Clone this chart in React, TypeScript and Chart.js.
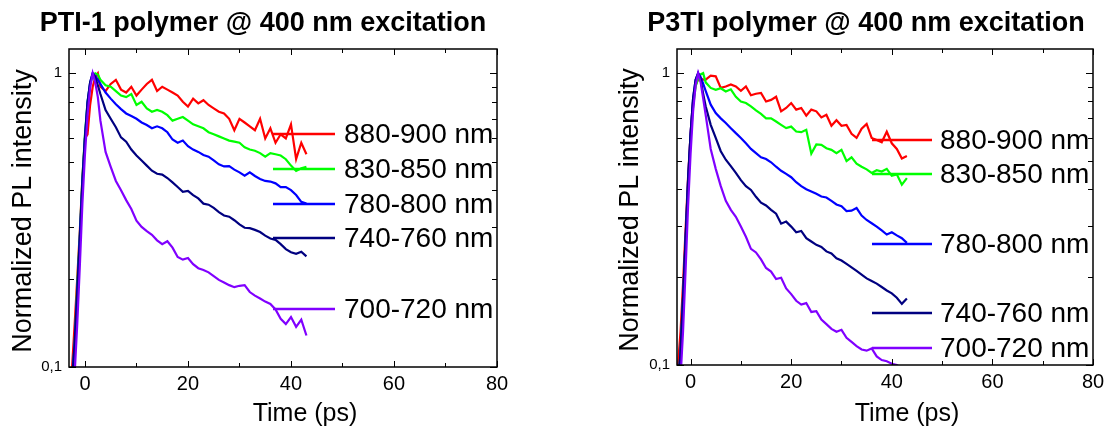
import React, { useEffect, useRef } from 'react';
import { Chart, registerables } from 'chart.js';

Chart.register(...registerables);

// ---------- data ----------
const times = [-3, -2.5, -2, -1.5, -1, -0.5, 0, 0.5, 1, 1.5, 2, 2.5,
  3, 4, 5, 6, 7, 8, 9, 10, 11, 12, 13, 14, 15, 16, 17, 18, 19, 20, 21, 22,
  23, 24, 25, 26, 27, 28, 29, 30, 31, 32, 33, 34, 35, 36, 37, 38, 39, 40, 41, 42, 43];

const seriesLabels = ['880-900 nm', '830-850 nm', '780-800 nm', '740-760 nm', '700-720 nm'];
const seriesColors = ['#ff0000', '#00ff00', '#0000ff', '#000080', '#8000ff'];

// PTI-1 polymer
const pti880 = [0.08, 0.10, 0.14, 0.20, 0.29, 0.44, 0.60, 0.62, 0.78, 0.90, 0.97, 1.00,
  0.90, 0.87, 0.92, 0.95, 0.88, 0.86, 0.90, 0.84, 0.88, 0.92,
  0.95, 0.87, 0.90, 0.88, 0.86, 0.84, 0.80, 0.77, 0.82, 0.79,
  0.81, 0.78, 0.76, 0.74, 0.73, 0.70, 0.64, 0.70, 0.68, 0.66,
  0.64, 0.70, 0.60, 0.65, 0.58, 0.62, 0.60, 0.67, 0.51, 0.58,
  0.53];
const pti830 = [0.07, 0.09, 0.12, 0.19, 0.28, 0.44, 0.62, 0.80, 0.92, 0.98, 1.00, 0.99,
  0.95, 0.91, 0.90, 0.87, 0.84, 0.83, 0.85, 0.78, 0.80, 0.76,
  0.74, 0.75, 0.74, 0.72, 0.69, 0.70, 0.71, 0.69, 0.67, 0.66,
  0.65, 0.63, 0.62, 0.61, 0.60, 0.59, 0.585, 0.58, 0.56, 0.55,
  0.545, 0.535, 0.52, 0.535, 0.53, 0.525, 0.51, 0.485, 0.465, 0.475,
  0.48];
const pti780 = [0.07, 0.09, 0.12, 0.18, 0.28, 0.43, 0.61, 0.80, 0.93, 1.00, 0.98, 0.95,
  0.92, 0.86, 0.82, 0.785, 0.755, 0.73, 0.715, 0.70, 0.68, 0.667,
  0.65, 0.66, 0.65, 0.63, 0.595, 0.58, 0.59, 0.565, 0.55, 0.54,
  0.527, 0.52, 0.505, 0.49, 0.482, 0.483, 0.47, 0.46, 0.448, 0.46,
  0.447, 0.437, 0.43, 0.428, 0.422, 0.41, 0.41, 0.40, 0.385, 0.365,
  0.36];
const pti740 = [0.07, 0.09, 0.12, 0.18, 0.27, 0.42, 0.60, 0.79, 0.93, 1.00, 0.97, 0.91,
  0.85, 0.75, 0.70, 0.655, 0.605, 0.585, 0.55, 0.525, 0.505, 0.485,
  0.466, 0.455, 0.452, 0.44, 0.425, 0.41, 0.395, 0.398, 0.385, 0.375,
  0.36, 0.357, 0.348, 0.337, 0.328, 0.325, 0.316, 0.306, 0.298, 0.297,
  0.293, 0.288, 0.28, 0.274, 0.271, 0.262, 0.252, 0.246, 0.243, 0.247,
  0.238];
const pti700 = [0.06, 0.075, 0.095, 0.14, 0.22, 0.36, 0.53, 0.72, 0.89, 1.00, 0.93, 0.83,
  0.69, 0.54, 0.48, 0.43, 0.40, 0.37, 0.345, 0.315, 0.30, 0.29,
  0.282, 0.27, 0.262, 0.268, 0.255, 0.237, 0.232, 0.235, 0.224, 0.217,
  0.214, 0.21, 0.204, 0.198, 0.194, 0.19, 0.187, 0.189, 0.19, 0.18,
  0.175, 0.171, 0.167, 0.164, 0.157, 0.146, 0.14, 0.148, 0.137, 0.145,
  0.128];

// P3TI polymer
const p3ti880 = [0.085, 0.10, 0.13, 0.19, 0.29, 0.44, 0.62, 0.80, 0.91, 0.95, 0.96, 0.95,
  0.95, 0.98, 0.975, 0.89, 0.90, 0.915, 0.90, 0.87, 0.90, 0.84,
  0.85, 0.855, 0.80, 0.81, 0.83, 0.74, 0.76, 0.79, 0.75, 0.76,
  0.715, 0.75, 0.74, 0.705, 0.72, 0.66, 0.69, 0.66, 0.665, 0.62,
  0.60, 0.645, 0.67, 0.60, 0.59, 0.58, 0.63, 0.575, 0.55, 0.51,
  0.52];
const p3ti830 = [0.07, 0.085, 0.11, 0.17, 0.26, 0.41, 0.59, 0.77, 0.90, 0.96, 0.99, 1.00,
  0.93, 0.89, 0.877, 0.888, 0.865, 0.88, 0.83, 0.80, 0.79, 0.77,
  0.745, 0.725, 0.70, 0.70, 0.683, 0.665, 0.648, 0.656, 0.631, 0.628,
  0.64, 0.53, 0.57, 0.568, 0.553, 0.546, 0.532, 0.546, 0.50, 0.515,
  0.49, 0.478, 0.468, 0.455, 0.465, 0.46, 0.47, 0.445, 0.45, 0.415,
  0.437];
const p3ti780 = [0.07, 0.085, 0.11, 0.17, 0.27, 0.43, 0.62, 0.82, 0.95, 1.00, 0.97, 0.92,
  0.87, 0.78, 0.73, 0.70, 0.675, 0.648, 0.623, 0.60, 0.575, 0.55,
  0.532, 0.515, 0.508, 0.495, 0.478, 0.463, 0.452, 0.44, 0.423, 0.41,
  0.40, 0.393, 0.386, 0.378, 0.375, 0.365, 0.355, 0.35, 0.337, 0.338,
  0.345, 0.325, 0.314, 0.306, 0.298, 0.289, 0.28, 0.285, 0.278, 0.272,
  0.262];
const p3ti740 = [0.07, 0.085, 0.11, 0.17, 0.27, 0.43, 0.62, 0.82, 0.95, 1.00, 0.95, 0.85,
  0.77, 0.665, 0.60, 0.54, 0.505, 0.48, 0.455, 0.43, 0.41, 0.398,
  0.377, 0.36, 0.352, 0.34, 0.33, 0.305, 0.31, 0.298, 0.285, 0.288,
  0.272, 0.265, 0.258, 0.254, 0.245, 0.241, 0.232, 0.228, 0.222, 0.216,
  0.21, 0.204, 0.198, 0.194, 0.19, 0.185, 0.18, 0.176, 0.17, 0.162,
  0.169];
const p3ti700 = [0.06, 0.07, 0.09, 0.13, 0.21, 0.35, 0.53, 0.74, 0.91, 1.00, 0.93, 0.82,
  0.72, 0.55, 0.47, 0.41, 0.365, 0.34, 0.322, 0.298, 0.275, 0.25,
  0.243, 0.23, 0.215, 0.209, 0.197, 0.199, 0.183, 0.175, 0.166, 0.161,
  0.163, 0.152, 0.153, 0.143, 0.138, 0.133, 0.13, 0.132, 0.124, 0.12,
  0.116, 0.113, 0.112, 0.114, 0.107, 0.104, 0.103, 0.101, 0.10, 0.097,
  0.096];

const xTickValues = [0, 20, 40, 60, 80];
const xMinorTicks = [10, 30, 50, 70];
const yTickValues = [0.1, 1];
const yTickLabels = ['0,1', '1'];
const yMinorTicks = [0.2, 0.3, 0.4, 0.5, 0.6, 0.7, 0.8, 0.9];

const xTitle = 'Time (ps)';
const yTitle = 'Normalized PL intensity';

// ---------- layout ----------
const FONT = '"Liberation Sans", Arial, Helvetica, sans-serif';
const CW = 555;
const CH = 428;

const panels = [
  {
    title: 'PTI-1 polymer @ 400 nm excitation',
    series: [pti880, pti830, pti780, pti740, pti700],
    canvasLeft: 0,
    xMin: -3.1,
    yMax: 1.21,
    area: { left: 69, top: 49, right: 497, bottom: 367 },
    titleX: 263,
    xTitleX: 305,
    yTitleX: 24,
    legendLine: [273, 335],
    legendTextX: 344,
    legendRows: [134, 169, 204, 238, 309],
  },
  {
    title: 'P3TI polymer @ 400 nm excitation',
    series: [p3ti880, p3ti830, p3ti780, p3ti740, p3ti700],
    canvasLeft: 555,
    xMin: -2.7,
    yMax: 1.21,
    area: { left: 122, top: 49, right: 538, bottom: 365 },
    titleX: 311,
    xTitleX: 352,
    yTitleX: 76,
    legendLine: [317, 377],
    legendTextX: 385,
    legendRows: [140, 174, 244, 313, 348],
  },
];

type PanelCfg = typeof panels[number];

function makeDecorPlugin(cfg: PanelCfg) {
  return {
    id: 'decor',
    afterDraw(chart: any) {
      const ctx = chart.ctx as CanvasRenderingContext2D;
      const { left, top, right, bottom } = chart.chartArea;
      const xs = chart.scales.x;
      const ys = chart.scales.y;
      ctx.save();
      ctx.strokeStyle = '#000';
      ctx.lineWidth = 1;
      // ticks (inward, all four sides)
      const xt = (v: number, len: number) => {
        const px = Math.round(xs.getPixelForValue(v)) + 0.5;
        ctx.beginPath();
        ctx.moveTo(px, bottom); ctx.lineTo(px, bottom - len);
        ctx.moveTo(px, top); ctx.lineTo(px, top + len);
        ctx.stroke();
      };
      xTickValues.forEach(v => xt(v, 6));
      xMinorTicks.forEach(v => xt(v, 4));
      const yt = (v: number, len: number) => {
        const py = Math.round(ys.getPixelForValue(v)) + 0.5;
        ctx.beginPath();
        ctx.moveTo(left, py); ctx.lineTo(left + len, py);
        ctx.moveTo(right, py); ctx.lineTo(right - len, py);
        ctx.stroke();
      };
      yTickValues.forEach(v => yt(v, 7));
      yMinorTicks.forEach(v => yt(v, 5));
      // frame
      ctx.lineWidth = 1.5;
      ctx.strokeRect(left, top, right - left, bottom - top);

      // legend entries
      ctx.font = `28px ${FONT}`;
      ctx.textAlign = 'left';
      ctx.textBaseline = 'middle';
      seriesLabels.forEach((lab, i) => {
        const y = cfg.legendRows[i];
        ctx.strokeStyle = seriesColors[i];
        ctx.lineWidth = 2.5;
        ctx.beginPath();
        ctx.moveTo(cfg.legendLine[0], y);
        ctx.lineTo(cfg.legendLine[1], y);
        ctx.stroke();
        ctx.fillStyle = '#000';
        ctx.fillText(lab, cfg.legendTextX, y + 1);
      });

      // titles
      ctx.fillStyle = '#000';
      ctx.textAlign = 'center';
      ctx.textBaseline = 'middle';
      ctx.font = `bold 27px ${FONT}`;
      ctx.fillText(cfg.title, cfg.titleX, 24);
      ctx.font = `25px ${FONT}`;
      ctx.fillText(xTitle, cfg.xTitleX, 414);
      ctx.save();
      ctx.translate(cfg.yTitleX, (top + bottom) / 2 + 3);
      ctx.rotate(-Math.PI / 2);
      ctx.font = `27px ${FONT}`;
      ctx.fillText(yTitle, 0, 0);
      ctx.restore();
      ctx.restore();
    },
  };
}

function Panel({ cfg }: { cfg: PanelCfg }) {
  const ref = useRef<HTMLCanvasElement>(null);
  useEffect(() => {
    if (!ref.current) return;
    const datasets = seriesLabels.map((lab, i) => ({
      label: lab,
      data: times.map((t, j) => ({ x: t, y: cfg.series[i][j] })),
      borderColor: seriesColors[i],
      backgroundColor: seriesColors[i],
      borderWidth: 2.2,
      pointRadius: 0,
      tension: 0,
      fill: false,
      clip: 0,
    })).reverse();
    const a = cfg.area;
    const chart = new Chart(ref.current, {
      type: 'line',
      data: { datasets },
      options: {
        animation: false,
        responsive: false,
        devicePixelRatio: 1,
        events: [],
        layout: { padding: { top: a.top, left: 0, right: CW - a.right, bottom: 0 } },
        plugins: {
          legend: { display: false },
          title: { display: false },
          tooltip: { enabled: false },
        },
        scales: {
          x: {
            type: 'linear',
            min: cfg.xMin,
            max: 80,
            grid: { display: false, drawTicks: false },
            border: { display: false },
            afterBuildTicks: (s: any) => { s.ticks = xTickValues.map(v => ({ value: v })); },
            afterFit: (s: any) => { s.height = CH - a.bottom; },
            ticks: {
              color: '#000',
              font: { family: FONT, size: 20 },
              padding: 5,
              maxRotation: 0,
              autoSkip: false,
              callback: (v: any) => String(v),
            },
          },
          y: {
            type: 'logarithmic',
            min: 0.1,
            max: cfg.yMax,
            grid: { display: false, drawTicks: false },
            border: { display: false },
            afterBuildTicks: (s: any) => { s.ticks = yTickValues.map(v => ({ value: v })); },
            afterFit: (s: any) => { s.width = a.left; },
            ticks: {
              color: '#000',
              font: { family: FONT, size: 15 },
              padding: 7,
              autoSkip: false,
              callback: (v: any) => {
                const k = yTickValues.findIndex(t => Math.abs(t - v) < 1e-9);
                return k >= 0 ? yTickLabels[k] : '';
              },
            },
          },
        },
      },
      plugins: [makeDecorPlugin(cfg)],
    } as any);
    return () => chart.destroy();
  }, [cfg]);
  return (
    <canvas
      ref={ref}
      width={CW}
      height={CH}
      style={{ position: 'absolute', left: cfg.canvasLeft, top: 0, width: CW, height: CH }}
    />
  );
}

export default function App() {
  return (
    <div style={{ position: 'fixed', left: 0, top: 0, width: 1110, height: 428, background: '#fff', overflow: 'hidden' }}>
      {panels.map((p, i) => <Panel key={i} cfg={p} />)}
    </div>
  );
}
